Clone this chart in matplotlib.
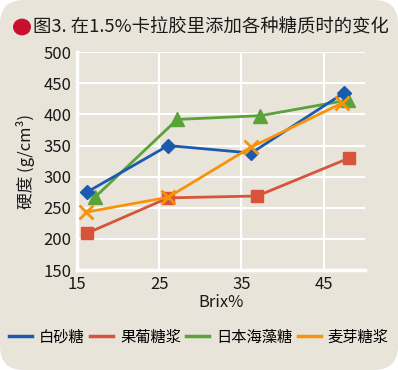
import numpy as np
import matplotlib.pyplot as plt
from matplotlib.patches import FancyBboxPatch, Circle

plt.rcParams['font.family'] = ['Noto Sans CJK SC', 'DejaVu Sans']

# data
names = ["白砂糖", "果葡糖浆", "日本海藻糖", "麦芽糖浆"]
brix_white = [16.2, 26.1, 36.2, 47.5]
hard_white = [275, 350, 338, 435]
brix_hfcs = [16.2, 26.1, 36.9, 48.1]
hard_hfcs = [209, 266, 269, 330]
brix_treh = [17.2, 27.2, 37.3, 47.9]
hard_treh = [267, 392, 398, 423]
brix_malt = [16.1, 26.1, 36.1, 47.2]
hard_malt = [243, 267, 347, 418]

xticks = [15, 25, 35, 45]
yticks = [150, 200, 250, 300, 350, 400, 450, 500]

bg = "#e9e4d9"
fig = plt.figure(figsize=(3.98, 3.70), dpi=100)
fig.patch.set_facecolor("white")
card = FancyBboxPatch((0.0, 0.0), 1.0, 1.0, boxstyle="round,pad=0,rounding_size=0.06",
                      transform=fig.transFigure, facecolor=bg, edgecolor="none",
                      mutation_aspect=398 / 370, zorder=-10)
fig.patches.append(card)

ax = fig.add_axes([0.193, 0.270, 0.724, 0.589])
ax.set_facecolor(bg)

ax.plot(brix_white, hard_white, color="#1a5bb0", lw=2, marker="D", ms=7, label=names[0], zorder=5)
ax.plot(brix_hfcs, hard_hfcs, color="#d9533a", lw=2, marker="s", ms=9, label=names[1], zorder=3)
ax.plot(brix_treh, hard_treh, color="#5aa23a", lw=2, marker="^", ms=10, label=names[2], zorder=4)
ax.plot(brix_malt, hard_malt, color="#f7930b", lw=2, marker="x", ms=10, mew=2, label=names[3], zorder=6)

ax.set_xlim(15, 50)
ax.set_ylim(150, 500)
ax.set_xticks(xticks)
ax.set_yticks(yticks)
ax.grid(True, color="white", lw=1.5)
ax.set_axisbelow(True)
for s in ["top", "right"]:
    ax.spines[s].set_visible(False)
for s in ["left", "bottom"]:
    ax.spines[s].set_color("white")
    ax.spines[s].set_linewidth(2.5)
ax.tick_params(length=0, labelsize=12, colors="#1a1a1a")
ax.tick_params(axis="y", pad=4)
ax.tick_params(axis="x", pad=4)
ax.set_xlabel("Brix%", fontsize=12, color="#1a1a1a", labelpad=1)
ax.set_ylabel("硬度 (g/cm³)", fontsize=12, color="#1a1a1a", labelpad=6)

# title with red bullet
fig.patches.append(Circle((22 / 398, 1 - 27 / 370), 9 / 398, transform=fig.transFigure,
                          facecolor="#c8102e", edgecolor="none", zorder=2))
fig.text(33 / 398, 1 - 27 / 370, "图3. 在1.5%卡拉胶里添加各种糖质时的变化",
         fontsize=13.2, va="center", ha="left", color="#1a1a1a")

leg = fig.legend(handles=[l for l in ax.get_lines()], labels=names, loc="center",
                 bbox_to_anchor=(0.5, 1 - 337 / 370), ncol=4, frameon=False,
                 fontsize=11, handlelength=1.5, handletextpad=0.45, columnspacing=0.35,
                 borderpad=0, borderaxespad=0)
for h in leg.legend_handles:
    h.set_marker("")
    h.set_linewidth(2.5)

fig.savefig("out.png", dpi=100, facecolor=fig.get_facecolor())
